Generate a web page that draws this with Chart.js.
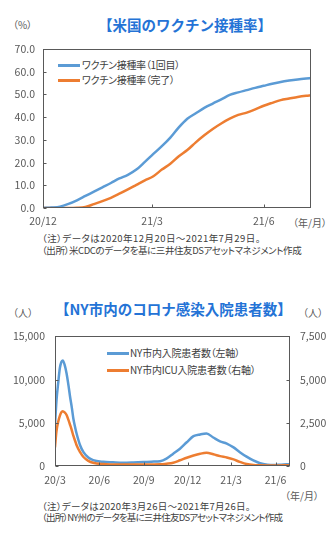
<!DOCTYPE html>
<html><head><meta charset="utf-8">
<script src="https://cdn.jsdelivr.net/npm/chart.js@4"></script>
<style>
html,body{margin:0;padding:0;background:#fff;}
body{width:333px;height:540px;position:relative;overflow:hidden;font-family:"Noto Sans CJK JP","Noto Sans",sans-serif;color:#404040;}
.abs{position:absolute;white-space:nowrap;}
.p{font-feature-settings:"palt";}
.title{font-weight:bold;color:#2473D6;font-size:14.5px;line-height:18px;}
.unit{font-size:10px;line-height:12px;color:#595959;}
.leg{font-size:10px;line-height:12px;color:#404040;}
.legline{position:absolute;height:3px;}
.note{font-size:9.5px;line-height:11.5px;color:#404040;}
canvas{position:absolute;left:0;}
</style></head>
<body>
<div class="abs title" style="left:98px;top:16px;">【米国のワクチン接種率】</div>
<div class="abs unit p" style="left:13px;top:19px;">（%）</div>
<div class="legline" style="left:58px;top:64px;width:22px;background:#5B9BD5;"></div>
<div class="abs leg p" style="left:82px;top:59px;letter-spacing:-0.3px;">ワクチン接種率（1回目）</div>
<div class="legline" style="left:58px;top:79px;width:22px;background:#ED7D31;"></div>
<div class="abs leg p" style="left:82px;top:74px;letter-spacing:-0.3px;">ワクチン接種率（完了）</div>
<div class="abs unit p" style="left:293px;top:217px;">（年/月）</div>
<div class="abs note p" style="left:42px;top:233px;letter-spacing:0.45px;">（注）データは2020年12月20日～2021年7月29日。</div>
<div class="abs note p" style="left:42px;top:245px;letter-spacing:-0.4px;">（出所）米CDCのデータを基に三井住友DSアセットマネジメント作成</div>
<canvas id="c1" width="333" height="200" style="top:30px;width:333px;height:200px;"></canvas>

<div class="abs title" style="left:55px;top:300px;">【NY市内のコロナ感染入院患者数】</div>
<div class="abs unit p" style="left:13px;top:307px;">（人）</div>
<div class="abs unit p" style="left:303px;top:307px;">（人）</div>
<div class="legline" style="left:107px;top:352px;width:22px;background:#5B9BD5;"></div>
<div class="abs leg p" style="left:130px;top:347px;letter-spacing:-0.2px;">NY市内入院患者数（左軸）</div>
<div class="legline" style="left:107px;top:369px;width:22px;background:#ED7D31;"></div>
<div class="abs leg p" style="left:130px;top:364px;letter-spacing:-0.2px;">NY市内ICU入院患者数（右軸）</div>
<div class="abs unit p" style="left:285px;top:490px;">（年/月）</div>
<div class="abs note p" style="left:42px;top:501px;letter-spacing:0.3px;">（注）データは2020年3月26日～2021年7月26日。</div>
<div class="abs note p" style="left:42px;top:512px;letter-spacing:-0.8px;">（出所）NY州のデータを基に三井住友DSアセットマネジメント作成</div>
<canvas id="c2" width="333" height="175" style="top:320px;width:333px;height:175px;"></canvas>

<script>
// ---- Chart 1: US vaccination rate (days since 2020-12-20) ----
const usDays = [0,7,14,21,28,35,42,49,56,63,70,77,84,91,98,105,112,119,126,133,140,147,154,161,168,175,182,189,196,203,210,217,221];
const usFirstDose = [0.0,0.2,0.6,1.8,3.4,5.3,7.2,9.1,11.0,13.0,14.6,16.9,20.3,23.8,27.2,31.0,35.5,39.3,41.7,44.1,46.0,47.8,49.8,50.9,51.9,52.9,53.8,54.7,55.5,56.1,56.6,57.0,57.2];
const usFullyVacc = [0.0,0.0,0.0,0.0,0.1,0.5,1.7,3.0,4.5,6.3,8.2,10.2,12.2,14.0,16.9,19.5,22.8,25.5,28.9,32.0,34.8,37.2,39.3,41.0,42.0,43.4,45.0,46.3,47.5,48.2,48.9,49.4,49.6];
const usTickDays = [0,90,182];
const usTickLabels = ['20/12','21/3','21/6'];
const usYTicks = [0,10,20,30,40,50,60,70];

// ---- Chart 2: NYC hospitalizations (days since 2020-03-26) ----
const nyDays = [0,3,7,10,13,16,20,24,28,31,35,38,42,45,52,59,69,79,100,120,141,162,183,200,218,231,245,259,273,287,301,314,328,342,356,370,383,397,411,425,440,453,466,480,487];
const nyHosp = [4700,7500,9800,11300,12000,12200,11700,10700,9300,8100,6700,5500,4400,3700,2400,1600,980,680,480,420,370,400,450,500,560,860,1420,2000,2750,3450,3650,3750,3300,2850,2600,2150,1600,1080,640,320,160,110,140,190,210];
const nyIcu = [1080,2000,2600,2900,3100,3170,3100,2950,2650,2400,2050,1750,1430,1180,800,520,300,185,110,90,80,80,80,90,100,135,190,330,480,610,710,760,680,570,490,380,240,115,55,40,35,35,35,40,40];
const nyTickDays = [0,92,184,275,365,457];
const nyTickLabels = ['20/3','20/6','20/9','20/12','21/3','21/6'];
const nyLeftTicks = [0,5000,10000,15000];
const nyRightTicks = [0,2500,5000,7500];

const BLUE = '#5B9BD5', ORANGE = '#ED7D31', TICKC = '#595959';
Chart.defaults.font.family = '"Noto Sans CJK JP","Noto Sans",sans-serif';
Chart.defaults.font.size = 10.5;
Chart.defaults.color = TICKC;

const framePlugin = {
  id: 'frame',
  afterDraw(chart) {
    const {ctx, chartArea: a, scales} = chart;
    ctx.save();
    ctx.strokeStyle = '#595959';
    ctx.lineWidth = 1;
    const L = Math.round(a.left) + 0.5, T = Math.round(a.top) + 0.5;
    const R = Math.round(a.right) - 0.5, B = Math.round(a.bottom) - 0.5;
    ctx.strokeRect(L, T, R - L, B - T);
    Object.values(scales).forEach(s => {
      s.ticks.forEach(t => {
        const p = Math.round(s.getPixelForValue(t.value)) + 0.5;
        ctx.beginPath();
        if (s.axis === 'x') { ctx.moveTo(p, B); ctx.lineTo(p, B - 3); }
        else if (s.position === 'left') { ctx.moveTo(L, p); ctx.lineTo(L + 3, p); }
        else { ctx.moveTo(R, p); ctx.lineTo(R - 3, p); }
        ctx.stroke();
      });
    });
    ctx.restore();
  }
};

function pts(xs, ys) { return xs.map((x, i) => ({x: x, y: ys[i]})); }
function fixedTicks(vals) { return function(scale) { scale.ticks = vals.map(v => ({value: v})); }; }

new Chart(document.getElementById('c1'), {
  type: 'line',
  data: {
    datasets: [
      {label: 'ワクチン接種率（1回目）', data: pts(usDays, usFirstDose), borderColor: BLUE, borderWidth: 2.5, pointRadius: 0, cubicInterpolationMode: 'monotone'},
      {label: 'ワクチン接種率（完了）', data: pts(usDays, usFullyVacc), borderColor: ORANGE, borderWidth: 2.5, pointRadius: 0, cubicInterpolationMode: 'monotone'}
    ]
  },
  options: {
    responsive: false, animation: false, devicePixelRatio: 1,
    layout: {padding: {top: 19, right: 22, left: 0, bottom: 0}},
    plugins: {legend: {display: false}, tooltip: {enabled: false}},
    scales: {
      x: {type: 'linear', min: 0, max: 221,
        grid: {display: false, drawTicks: false}, border: {display: false},
        afterBuildTicks: fixedTicks(usTickDays),
        afterFit: s => { s.height = 22; },
        ticks: {autoSkip: false, maxRotation: 0, padding: 7, color: TICKC,
          callback: v => usTickLabels[usTickDays.indexOf(v)]}},
      y: {type: 'linear', min: 0, max: 70,
        grid: {display: false, drawTicks: false}, border: {display: false},
        afterBuildTicks: fixedTicks(usYTicks),
        afterFit: s => { s.width = 43; },
        ticks: {padding: 8, color: TICKC, callback: v => v.toFixed(1)}}
    }
  },
  plugins: [framePlugin]
});

new Chart(document.getElementById('c2'), {
  type: 'line',
  data: {
    datasets: [
      {label: 'NY市内入院患者数（左軸）', data: pts(nyDays, nyHosp), yAxisID: 'y', order: 1, borderColor: BLUE, borderWidth: 2.5, pointRadius: 0, cubicInterpolationMode: 'monotone'},
      {label: 'NY市内ICU入院患者数（右軸）', data: pts(nyDays, nyIcu), yAxisID: 'y1', order: 0, borderColor: ORANGE, borderWidth: 2.5, pointRadius: 0, cubicInterpolationMode: 'monotone'}
    ]
  },
  options: {
    responsive: false, animation: false, devicePixelRatio: 1,
    layout: {padding: {top: 12, right: 0, left: 0, bottom: 0}},
    plugins: {legend: {display: false}, tooltip: {enabled: false}},
    scales: {
      x: {type: 'linear', min: 0, max: 487,
        grid: {display: false, drawTicks: false}, border: {display: false},
        afterBuildTicks: fixedTicks(nyTickDays),
        afterFit: s => { s.height = 29; },
        ticks: {autoSkip: false, maxRotation: 0, padding: 8, color: TICKC,
          callback: v => nyTickLabels[nyTickDays.indexOf(v)]}},
      y: {type: 'linear', position: 'left', min: 0, max: 15000,
        grid: {display: false, drawTicks: false}, border: {display: false},
        afterBuildTicks: fixedTicks(nyLeftTicks),
        afterFit: s => { s.width = 55; },
        ticks: {padding: 10, color: TICKC, callback: v => v.toLocaleString('en-US')}},
      y1: {type: 'linear', position: 'right', min: 0, max: 7500,
        grid: {display: false, drawTicks: false}, border: {display: false},
        afterBuildTicks: fixedTicks(nyRightTicks),
        afterFit: s => { s.width = 43; },
        ticks: {padding: 10, color: TICKC, callback: v => v.toLocaleString('en-US')}}
    }
  },
  plugins: [framePlugin]
});
</script>
</body></html>
